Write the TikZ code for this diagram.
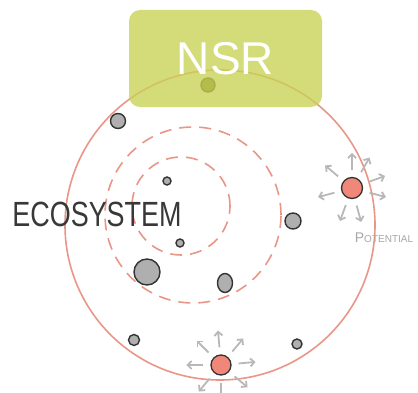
\documentclass[tikz,border=0pt]{standalone}
\usepackage{fontspec}
\newfontfamily\nsrfont{Liberation Sans}
\usetikzlibrary{arrows.meta}
\usetikzlibrary{shapes.geometric}

\definecolor{ringred}{RGB}{232,150,135}
\definecolor{seedred}{RGB}{240,135,120}
\definecolor{nsrgreen}{RGB}{200,210,85}
\definecolor{stonegray}{RGB}{175,175,175}

\begin{document}
\begin{tikzpicture}[x=1pt, y=1pt,
  stone/.style={circle, draw=black!80, fill=stonegray, line width=1.4pt, inner sep=0pt},
  seed/.style={circle, draw=black!80, fill=seedred, line width=1.3pt, inner sep=0pt, minimum size=21pt},
  ray/.style={draw=black!28, line width=1.8pt, -{Straight Barb[length=4pt,width=8pt]}},
  ring/.style={draw=ringred, line width=1.6pt},
  dashring/.style={ring, dash pattern=on 12pt off 8pt}]
\useasboundingbox (0,0) rectangle (418,392);

% rings
\draw[ring] (220,167) circle (155);
\draw[dashring] (193,177) circle (88);
\draw[dashring] (181,186) circle (49);

% stones
\node[stone, minimum size=15pt] (s1) at (118,271) {};
\node[stone, minimum size=8pt] (s2) at (167,211) {};
\node[stone, minimum size=8pt] (s3) at (180,149) {};
\node[stone, minimum size=26pt] (s4) at (147,120) {};
\node[stone, ellipse, minimum width=15pt, minimum height=19pt] (s5) at (225,109) {};
\node[stone, minimum size=16pt] (s6) at (293,171) {};
\node[stone, minimum size=11pt] (s7) at (134,52) {};
\node[stone, minimum size=10pt] (s8) at (297,48) {};
\node[stone, fill=black!45!nsrgreen, draw=black!75!nsrgreen, minimum size=14pt] (s0) at (208,307) {};

% potential seeds
\node[seed] (p1) at (352,204) {};
\node[seed, minimum size=20pt] (p2) at (221,27) {};
\foreach \a in {90,60,20,-15,-75,-110,-165,140}
  \draw[ray] (p1.\a) ++(\a:7) -- ++(\a:17);
\foreach \a in {95,135,50,180,5,-40,-90,-130}
  \draw[ray] (p2.\a) ++(\a:7) -- ++(\a:17);

% labels
\node[rounded corners=11pt, fill=nsrgreen, fill opacity=0.78, text opacity=1,
  minimum width=193pt, minimum height=97pt, text=white,
  font=\nsrfont\fontsize{46}{46}\selectfont] (nsr) at (225.5,333.5) {NSR};
\node[text=black!78, font=\nsrfont\fontsize{35}{35}\selectfont] (eco) at (97,178)
  {\scalebox{0.77}[1]{ECOSYSTEM}};
\node[text=black!35, font=\nsrfont] (pot) at (384,154)
  {{\fontsize{14}{14}\selectfont P}{\fontsize{10}{10}\selectfont OTENTIAL}};
\end{tikzpicture}
\end{document}
